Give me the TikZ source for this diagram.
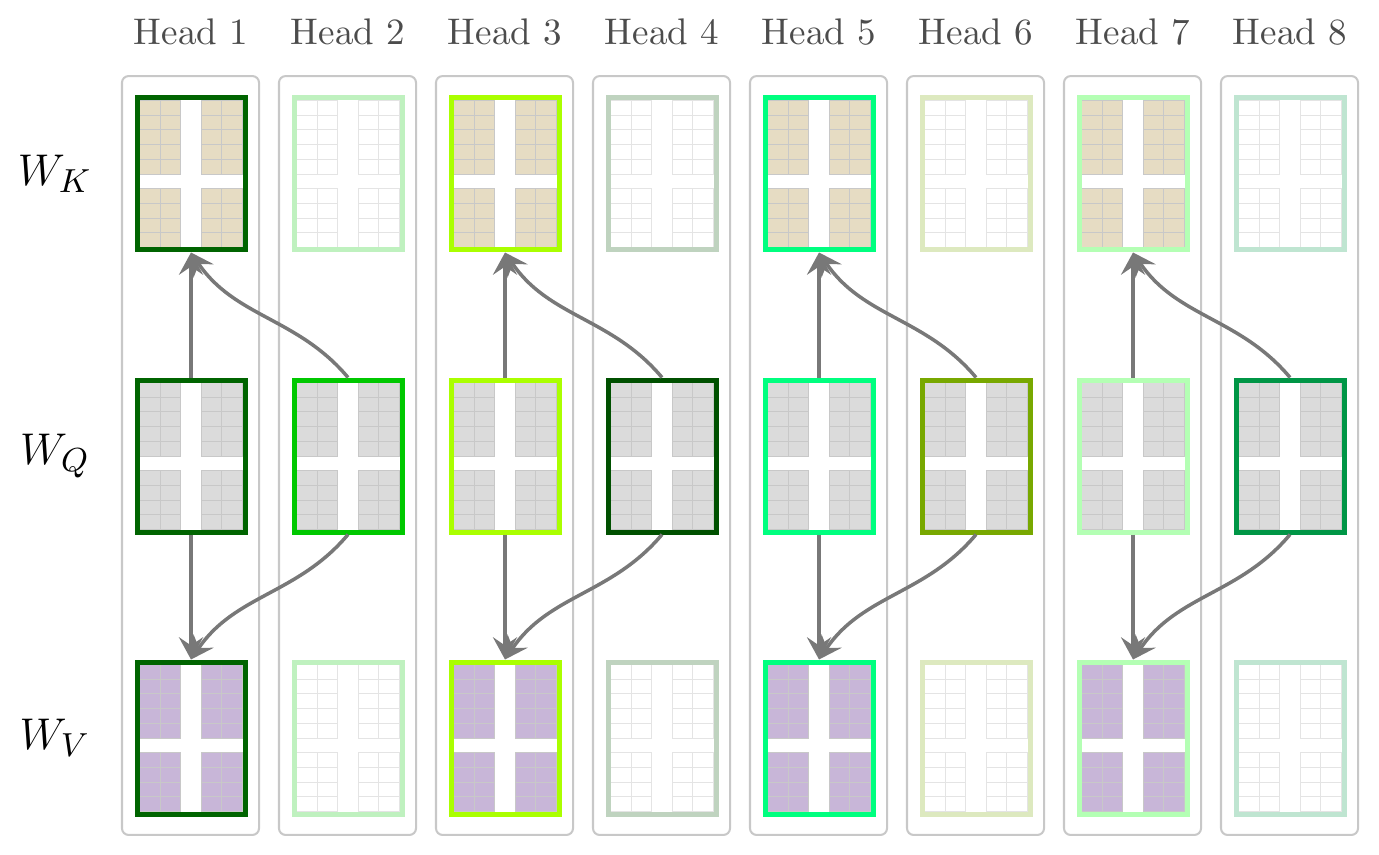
\documentclass[tikz,border=0pt]{standalone}
\usetikzlibrary{arrows.meta, positioning, calc}
\definecolor{headone}{HTML}{006400}
\definecolor{headtwo}{HTML}{00C800}
\definecolor{headthree}{HTML}{AAFF00}
\definecolor{headfour}{HTML}{005000}
\definecolor{headfive}{HTML}{00FF7F}
\definecolor{headsix}{HTML}{78A800}
\definecolor{headseven}{HTML}{B4FFB4}
\definecolor{headeight}{HTML}{009646}
\definecolor{keyfill}{HTML}{E6DCC3}
\definecolor{queryfill}{HTML}{DBDBDB}
\definecolor{valuefill}{HTML}{C8B6D8}
\definecolor{cellline}{HTML}{C8C8C8}
\definecolor{colborder}{HTML}{C8C8C8}
\colorlet{linkgray}{black!53}
\colorlet{txtmuted}{black!70}

\begin{document}
\begin{tikzpicture}[
    x=0.27pt, y=0.27pt,
    column/.style={draw=colborder, line width=0.55pt, rounded corners=1.8pt,
                   minimum width=37pt, minimum height=204.9pt, inner sep=0pt},
    frame/.style={line width=1.35pt, minimum width=29.16pt, minimum height=41.04pt,
                  inner sep=0pt},
    cell/.style={draw=cellline, line width=0.25pt},
    fadedcell/.style={draw=cellline!50, line width=0.25pt, fill=white},
    link/.style={draw=linkgray, line width=0.95pt,
                 -{Stealth[length=6pt, width=6.5pt, inset=2.2pt]}},
    headlabel/.style={text=txtmuted, font=\normalsize},
    rowlabel/.style={font=\fontsize{13}{15}\selectfont},
]

\useasboundingbox (0,0) rectangle (1379,-854);

\def\rowk{-174}
\def\rowq{-456}
\def\rowv{-738}
\def\cw{20.6}
\def\ch{14.7}

% Weight block macro: #1 x, #2 y, #3 frame colour, #4 cell fill, #5 name
\newcommand{\weightblock}[5]{
    \begin{scope}[shift={(#1,#2)}]
        \foreach \cx in {0,1,3,4}
            \foreach \ry in {0,1,2,3,4,6,7,8,9}
                \draw[cell, fill=#4] (-51.5+\cx*\cw, 73.5-\ry*\ch) rectangle ++(\cw,-\ch);
        \node[frame, draw=#3] (#5) at (0,0) {};
    \end{scope}
}

% Faded block macro (shared weights): #1 x, #2 y, #3 colour, #4 name
\newcommand{\fadedblock}[4]{
    \begin{scope}[shift={(#1,#2)}]
        \foreach \cx in {0,1,3,4}
            \foreach \ry in {0,1,2,3,4,6,7,8,9}
                \draw[fadedcell] (-51.5+\cx*\cw, 73.5-\ry*\ch) rectangle ++(\cw,-\ch);
        \node[frame, draw=#3!25] (#4) at (0,0) {};
    \end{scope}
}

% Head with its own K and V: #1 index, #2 colour
\newcommand{\ownhead}[2]{
    \pgfmathsetmacro{\hx}{191+157*(#1-1)}
    \node[column] (col#1) at (\hx-0.5, -455.5) {};
    \node[headlabel] (title#1) at (\hx, -32) {Head #1};
    \weightblock{\hx}{\rowk}{#2}{keyfill}{k#1}
    \weightblock{\hx}{\rowq}{#2}{queryfill}{q#1}
    \weightblock{\hx}{\rowv}{#2}{valuefill}{v#1}
}

% Head that borrows K and V: #1 index, #2 colour
\newcommand{\sharedhead}[2]{
    \pgfmathsetmacro{\hx}{191+157*(#1-1)}
    \node[column] (col#1) at (\hx-0.5, -455.5) {};
    \node[headlabel] (title#1) at (\hx, -32) {Head #1};
    \fadedblock{\hx}{\rowk}{#2}{k#1}
    \weightblock{\hx}{\rowq}{#2}{queryfill}{q#1}
    \fadedblock{\hx}{\rowv}{#2}{v#1}
}

% Row labels
\node[rowlabel] (labk) at (55, \rowk) {$W_K$};
\node[rowlabel] (labq) at (55, \rowq) {$W_Q$};
\node[rowlabel] (labv) at (55, \rowv) {$W_V$};

% Heads
\ownhead{1}{headone}
\sharedhead{2}{headtwo}
\ownhead{3}{headthree}
\sharedhead{4}{headfour}
\ownhead{5}{headfive}
\sharedhead{6}{headsix}
\ownhead{7}{headseven}
\sharedhead{8}{headeight}

% Query to key/value links
\foreach \a/\b in {1/2, 3/4, 5/6, 7/8} {
    \draw[link] (q\a.north) -- (k\a.south);
    \draw[link] (q\a.south) -- (v\a.north);
    \draw[link] (q\b.north) to[out=130, in=-56] (k\a.south);
    \draw[link] (q\b.south) to[out=-130, in=56] (v\a.north);
}

\end{tikzpicture}
\end{document}
